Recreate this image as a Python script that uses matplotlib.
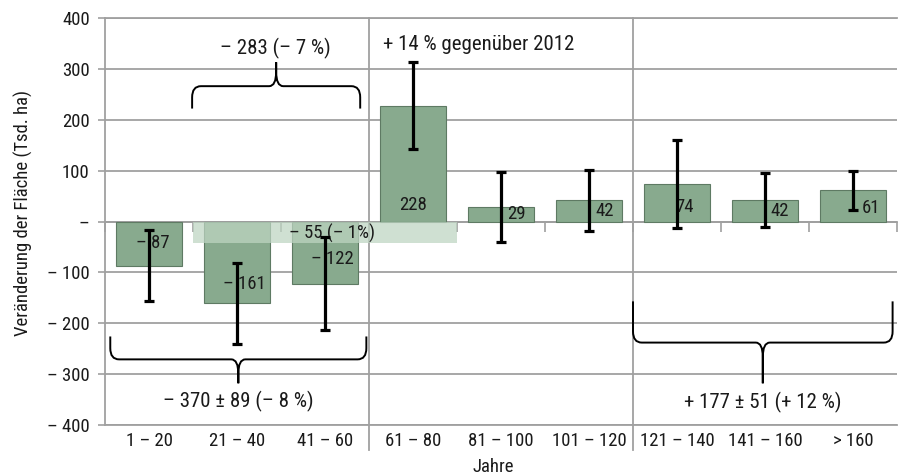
import numpy as np
import matplotlib.pyplot as plt
from matplotlib.path import Path
from matplotlib.patches import PathPatch

plt.rcParams['font.family'] = ['Roboto Condensed', 'Archivo Narrow', 'PT Sans Narrow',
                               'Liberation Sans Narrow', 'Liberation Sans', 'DejaVu Sans']
plt.rcParams['font.size'] = 13.5

# Daten: Veränderung der Waldfläche nach Altersklassen
klassen = ['1 – 20', '21 – 40', '41 – 60', '61 – 80', '81 – 100',
           '101 – 120', '121 – 140', '141 – 160', '> 160']
werte = [-87, -161, -122, 228, 29, 42, 74, 42, 61]
fehler = [70, 80, 91, 86, 69, 60, 87, 53, 39]
wert_txt = ['– 87', '– 161', '– 122', '228', '29', '42', '74', '42', '61']
yticks = [400, 300, 200, 100, 0, -100, -200, -300, -400]
ytick_txt = ['400', '300', '200', '100', '–', '– 100', '– 200', '– 300', '– 400']

# Lage der Beschriftungen in den Balken
lab_dx = [0.04, 0.08, 0.08, 0.0, 0.18, 0.18, 0.09, 0.17, 0.2]
lab_y = [-43, -122, -73, 33, 14, 20, 28, 20, 26]

gruen = '#88aa8e'
kante = '#5e7a63'
grau = '#a0a0a0'
schrift = '#1a1a1a'
fs_anm = 15
w, h = 9.11, 4.75

fig = plt.figure(figsize=(w, h), dpi=100)
ax = fig.add_axes([105/911, 1-425/475, 792/911, 407/475])
x = np.arange(len(klassen))

ax.bar(x, werte, width=0.76, color=gruen, edgecolor=kante, linewidth=0.8, zorder=2)
ax.errorbar(x, werte, yerr=fehler, fmt='none', ecolor='black', elinewidth=2.3,
            capsize=3.5, capthick=2.3, zorder=5)
for i in range(len(x)):
    ax.text(x[i] + lab_dx[i], lab_y[i], wert_txt[i], ha='center', va='center',
            color=schrift, zorder=4)

# heller Balken: Gesamtveränderung
ax.bar(2.0, -43, width=3.0, color='#bed5c2', alpha=0.73, linewidth=0, zorder=3)
ax.text(2.08, -23, '– 55 (– 1%)', ha='center', va='center', color=schrift, zorder=4)


def klammer(x0, x1, y_spitze, y_mitte, y_zacke, dx=0.1, dy=22):
    """geschweifte Klammer von x0 bis x1"""
    xc = (x0 + x1) / 2
    s = np.sign(y_zacke - y_mitte)
    verts, codes = [], []
    for xe, r in ((x0, 1), (x1, -1)):
        verts += [(xc, y_zacke), (xc, y_mitte + s*dy*1.3), (xc, y_mitte),
                  (xc - r*dx*0.8, y_mitte), (xe + r*dx, y_mitte), (xe, y_mitte),
                  (xe, y_mitte - s*dy), (xe, y_spitze)]
        codes += [Path.MOVETO, Path.LINETO, Path.CURVE3, Path.CURVE3,
                  Path.LINETO, Path.CURVE3, Path.CURVE3, Path.LINETO]
    ax.add_patch(PathPatch(Path(verts, codes), fill=False, lw=1.4,
                           edgecolor='black', zorder=6, clip_on=False))


klammer(0.49, 2.40, 222, 266, 313)
ax.text(1.44, 340, '– 283 (– 7 %)', ha='center', va='center', color=schrift, fontsize=fs_anm)
klammer(-0.44, 2.47, -226, -271, -318)
ax.text(1.01, -353, '– 370 ± 89 (– 8 %)', ha='center', va='center', color=schrift,
        fontsize=fs_anm)
klammer(5.5, 8.45, -157, -238, -318)
ax.text(6.98, -356, '+ 177 ± 51 (+ 12 %)', ha='center', va='center', color=schrift,
        fontsize=fs_anm)
ax.text(2.66, 347, '+ 14 % gegenüber 2012', ha='left', va='center', color=schrift,
        fontsize=fs_anm)

# Trennlinien zwischen den Altersgruppen
for xs in (2.5, 5.5):
    ax.axvline(xs, ymin=-0.061, ymax=1, color=grau, lw=1.3, clip_on=False, zorder=1)

# Nulllinie mit Teilstrichen
null = ax.secondary_xaxis(0.5)
null.set_alignment('bottom')
null.set_xticks(np.arange(-0.5, 9, 1))
null.set_xticklabels([])
null.tick_params(direction='out', length=7, width=1.2, color=grau)
null.spines['bottom'].set_color(grau)
null.spines['bottom'].set_linewidth(1.3)

ax.set_xlim(-0.5, 8.5)
ax.set_ylim(-400, 400)
ax.set_yticks(yticks)
ax.set_yticklabels(ytick_txt)
ax.set_xticks(x)
ax.set_xticklabels(klassen)
ax.tick_params(axis='x', length=0, pad=5, colors=schrift)
ax.tick_params(axis='y', length=5, width=1.2, color=grau, pad=6, labelcolor=schrift)
ax.grid(axis='y', color=grau, lw=1.3, zorder=0)
ax.set_axisbelow(True)
for sp in ('top', 'bottom', 'left'):
    ax.spines[sp].set_color(grau)
    ax.spines[sp].set_linewidth(1.3)
ax.spines['right'].set_visible(False)

ax.set_ylabel('Veränderung der Fläche (Tsd. ha)', color=schrift)
ax.yaxis.set_label_coords(-0.091, 0.522)
ax.set_xlabel('Jahre', color=schrift)
ax.xaxis.set_label_coords(0.49, -0.081)

fig.savefig('out.png', dpi=100)
